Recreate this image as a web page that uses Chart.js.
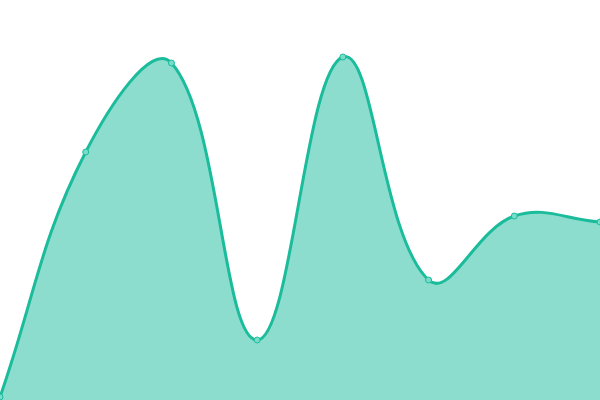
<!DOCTYPE html>
<html><head><meta charset="utf-8">
<script src="https://cdn.jsdelivr.net/npm/chart.js@4"></script>
<style>html,body{margin:0;padding:0;background:#fff}canvas{display:block}</style>
</head><body>
<canvas id="c" width="600" height="400"></canvas>
<script>
const categories = ["A","B","C","D","E","F","G","H"];
const values = [3, 248, 337, 60, 343, 120, 184, 178];
const yMin = 0, yMax = 400;
new Chart(document.getElementById('c'), {
  type: 'line',
  data: { labels: categories, datasets: [{
    data: values,
    borderColor: '#1abc9c',
    backgroundColor: 'rgba(26,188,156,0.5)',
    borderWidth: 3,
    fill: 'origin',
    tension: 0.4,
    pointRadius: 3,
    pointBorderWidth: 1,
    pointBackgroundColor: 'rgba(120,220,200,1)',
    pointBorderColor: '#1abc9c'
  }]},
  options: {
    responsive: false, animation: false,
    layout: { padding: 0, autoPadding: false },
    plugins: { legend: { display: false }, tooltip: { enabled: false } },
    scales: {
      x: { display: false },
      y: { display: false, min: yMin, max: yMax }
    }
  }
});
</script>
</body></html>
